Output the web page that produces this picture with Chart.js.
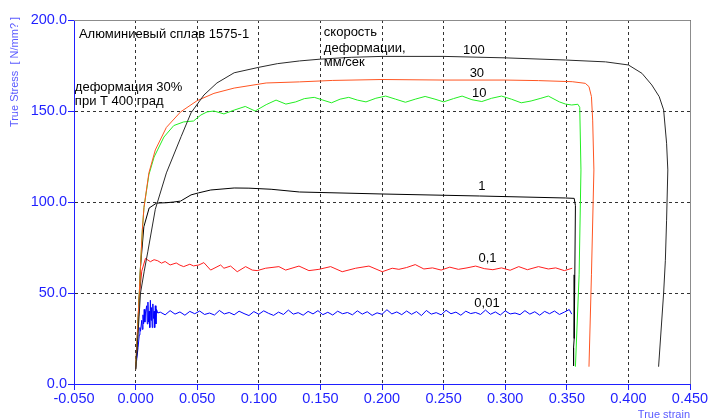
<!DOCTYPE html>
<html>
<head>
<meta charset="utf-8">
<script src="https://cdn.jsdelivr.net/npm/chart.js@4/dist/chart.umd.min.js"></script>
<style>
  html, body { margin: 0; padding: 0; background: #fff; }
  #wrap { width: 711px; height: 418px; }
</style>
</head>
<body>
<div id="wrap"><canvas id="flowChart" width="711" height="418"></canvas></div>
<script>
// Flow curves of alloy 1575-1 at 400 °C, 30 % deformation, one curve per ram speed (mm/s).
// Each curve is a list of [true strain, true stress N/mm²] pairs.

const strainTicks = [-0.05, 0, 0.05, 0.1, 0.15, 0.2, 0.25, 0.3, 0.35, 0.4, 0.45];
const stressTicks = [0, 50, 100, 150, 200];

const speedLabels = ["100", "30", "10", "1", "0,1", "0,01"];

const curve100 = [
    [0.000, 8], [0.002, 28], [0.004, 50], [0.007, 62], [0.010, 73], [0.016, 96], [0.025, 116],
    [0.037, 136], [0.045, 149], [0.0555, 158.8], [0.066, 165.4], [0.080, 171], [0.100, 174],
    [0.115, 176], [0.133, 177.5], [0.150, 178.5], [0.175, 179.5], [0.200, 180], [0.250, 180],
    [0.300, 179.2], [0.349, 178], [0.3815, 177], [0.400, 175.3], [0.411, 170.7], [0.419, 164.3],
    [0.425, 157.9], [0.4286, 150.6], [0.431, 132.3], [0.432, 117.6], [0.431, 90], [0.430, 68],
    [0.4286, 50], [0.4245, 9.5]
];

const curve30 = [
    [0.000, 8], [0.002, 35], [0.004, 65], [0.0055, 85], [0.0068, 97], [0.0108, 116], [0.016, 128.6],
    [0.025, 141], [0.0365, 149.5], [0.050, 155.7], [0.0636, 159.7], [0.080, 162.6], [0.106, 165.4],
    [0.133, 166], [0.160, 166.8], [0.200, 167.3], [0.250, 167], [0.300, 167], [0.327, 166.7],
    [0.3544, 166.1], [0.365, 165.2], [0.368, 163.4], [0.370, 157.9], [0.371, 145], [0.372, 117.6],
    [0.370, 60], [0.368, 9.5]
];

const curve10 = [
    [0.000, 8], [0.002, 35], [0.004, 65], [0.0055, 85], [0.0068, 97], [0.0108, 115], [0.015, 124.7],
    [0.023, 135.7], [0.031, 142], [0.039, 144], [0.047, 144.5], [0.053, 147.8], [0.058, 149.5],
    [0.0636, 150], [0.0717, 148.4], [0.080, 150.5], [0.089, 152.5], [0.097, 150.0], [0.106, 153.5],
    [0.114, 156.0], [0.122, 153.8], [0.130, 155.0], [0.137, 156.8], [0.145, 157.5], [0.152, 156.0],
    [0.159, 154.5], [0.166, 156.5], [0.173, 157.5], [0.180, 156.0], [0.187, 155.0], [0.195, 157.0],
    [0.203, 158.2], [0.211, 156.5], [0.219, 154.8], [0.227, 156.5], [0.235, 158.0], [0.243, 156.5],
    [0.250, 155.0], [0.258, 156.8], [0.265, 158.2], [0.273, 156.2], [0.281, 155.2], [0.289, 157.0],
    [0.297, 158.2], [0.305, 156.5], [0.313, 154.5], [0.321, 155.5], [0.329, 157.0], [0.335, 158.2],
    [0.344, 155.0], [0.349, 153.8], [0.354, 153.3], [0.359, 153.7], [0.3605, 152], [0.3615, 117.6],
    [0.360, 60], [0.357, 9.5]
];

const curve1 = [
    [0.000, 8], [0.0013, 18.7], [0.004, 64.5], [0.0067, 86.4], [0.011, 96.7], [0.017, 99.4],
    [0.025, 99.6], [0.031, 100], [0.0365, 100.5], [0.045, 103.9], [0.051, 105], [0.061, 106.6],
    [0.080, 107.7], [0.092, 107.6], [0.110, 107], [0.133, 105.5], [0.200, 104.4], [0.279, 103.3],
    [0.349, 102.2], [0.356, 102], [0.357, 98], [0.3565, 60], [0.356, 25], [0.3555, 20], [0.3555, 10]
];

const curve01 = [
    [0.000, 8], [0.0027, 46], [0.005, 62], [0.008, 69], [0.012, 67.2], [0.015, 68.3], [0.018, 67.7],
    [0.021, 66.4], [0.024, 67.3], [0.028, 65.4], [0.033, 66.5], [0.036, 65.3], [0.039, 64.5],
    [0.044, 65.8], [0.047, 64.9], [0.0514, 65.4], [0.0554, 66.7], [0.0609, 62.6], [0.069, 65.4],
    [0.0717, 63.6], [0.0771, 64.8], [0.0825, 61.7], [0.0893, 64.5], [0.0947, 62.6], [0.0987, 62.3],
    [0.1055, 63.6], [0.1163, 64.5], [0.1218, 62.6], [0.1326, 64.8], [0.1407, 62.3], [0.1488, 63.0],
    [0.1583, 64.5], [0.1677, 61.7], [0.1786, 63.6], [0.1894, 64.8], [0.2002, 61.7], [0.2083, 63.6],
    [0.2137, 63.0], [0.220, 64.0], [0.227, 65.6], [0.234, 63.2], [0.241, 63.8], [0.248, 62.6],
    [0.255, 64.2], [0.262, 63.0], [0.269, 63.8], [0.276, 64.8], [0.283, 63.4], [0.290, 62.8],
    [0.297, 63.8], [0.304, 62.5], [0.311, 64.5], [0.318, 62.8], [0.327, 64.5], [0.335, 63.2],
    [0.341, 63.8], [0.348, 62.3], [0.3544, 63.6]
];

const curve001 = [
    [0.000, 8], [0.001, 14], [0.002, 20], [0.003, 27], [0.0035, 31], [0.004, 29], [0.005, 35],
    [0.0055, 30], [0.006, 38], [0.0065, 33], [0.007, 41], [0.0075, 34], [0.008, 39], [0.009, 43],
    [0.0095, 33], [0.010, 45], [0.0105, 34], [0.011, 40], [0.0115, 31], [0.012, 46], [0.0125, 35],
    [0.013, 42], [0.0135, 31], [0.014, 44], [0.0145, 36], [0.015, 40], [0.0155, 31], [0.016, 43],
    [0.0165, 33], [0.017, 41], [0.018, 39], [0.020, 39.5], [0.024, 38.0], [0.028, 40.3], [0.032, 38.4],
    [0.036, 39.6], [0.040, 37.8], [0.044, 39.9], [0.048, 38.6], [0.052, 40.1], [0.056, 38.2],
    [0.060, 39.0], [0.064, 37.9], [0.068, 40.4], [0.072, 38.5], [0.076, 39.3], [0.080, 38.0],
    [0.084, 40.0], [0.088, 38.7], [0.092, 37.6], [0.096, 39.8], [0.100, 38.3], [0.104, 40.2],
    [0.108, 38.8], [0.112, 37.7], [0.116, 39.5], [0.120, 38.2], [0.124, 40.6], [0.128, 38.4],
    [0.132, 39.2], [0.136, 37.8], [0.140, 39.9], [0.144, 38.5], [0.148, 40.3], [0.152, 38.1],
    [0.156, 39.4], [0.160, 37.9], [0.164, 40.0], [0.168, 38.6], [0.172, 39.3], [0.176, 38.0],
    [0.180, 40.2], [0.184, 38.4], [0.188, 39.7], [0.192, 37.7], [0.196, 39.1], [0.200, 38.3],
    [0.204, 40.8], [0.208, 38.5], [0.212, 39.6], [0.216, 38.1], [0.220, 40.1], [0.224, 38.3],
    [0.228, 39.8], [0.232, 37.6], [0.236, 40.4], [0.240, 38.4], [0.244, 39.2], [0.248, 38.0],
    [0.252, 40.5], [0.256, 38.6], [0.260, 39.5], [0.264, 37.8], [0.268, 40.0], [0.272, 38.7],
    [0.276, 39.3], [0.280, 38.2], [0.284, 40.6], [0.288, 38.3], [0.292, 39.6], [0.296, 37.9],
    [0.300, 40.2], [0.304, 38.5], [0.308, 39.0], [0.312, 38.1], [0.316, 40.3], [0.320, 38.4],
    [0.324, 39.7], [0.328, 37.8], [0.332, 39.9], [0.336, 38.6], [0.340, 40.1], [0.344, 38.2],
    [0.348, 39.5], [0.352, 40.9], [0.354, 38.4]
];

const curveColors = ["#2a2a2a", "#ff5522", "#22ee22", "#000000", "#ff1e1e", "#0000ff"];
const curves = [curve100, curve30, curve10, curve1, curve01, curve001];

// curve name tags and notes, placed in data units (strain, stress)
const speedTagPos = [[0.2746, 183.5], [0.277, 170.9], [0.279, 159.4], [0.281, 108.3], [0.2856, 69.2], [0.2852, 44]];
const notes = [
    { text: "Алюминиевый сплав 1575-1", at: [-0.046, 192.3] },
    { text: "деформация 30%", at: [-0.0493, 163.2] },
    { text: "при Т 400 град", at: [-0.0493, 155.0] },
    { text: "скорость", at: [0.1528, 193.4] },
    { text: "деформации,", at: [0.1528, 184.6] },
    { text: "мм/сек", at: [0.1528, 176.9] }
];

const FONT = "'Liberation Sans', Arial, Helvetica, sans-serif";
const AXIS_BLUE = "#1f1fff";
const TITLE_BLUE = "#5a5aff";

const annotate = {
    id: "annotate",
    beforeDatasetsDraw(chart) {
        // grey frame on the top and right of the plot
        const { ctx, chartArea: a } = chart;
        ctx.save();
        ctx.strokeStyle = "#8c8c8c";
        ctx.lineWidth = 1;
        ctx.beginPath();
        ctx.moveTo(a.left, a.top + 0.5);
        ctx.lineTo(a.right + 0.5, a.top + 0.5);
        ctx.lineTo(a.right + 0.5, a.bottom);
        ctx.stroke();
        ctx.restore();
    },
    afterDraw(chart) {
        const { ctx, chartArea: a } = chart;
        const xs = chart.scales.x, ys = chart.scales.y;
        ctx.save();
        ctx.fillStyle = "#000";
        ctx.font = "13px " + FONT;
        ctx.textBaseline = "middle";
        ctx.textAlign = "left";
        notes.forEach(n => {
            ctx.fillText(n.text, xs.getPixelForValue(n.at[0]), ys.getPixelForValue(n.at[1]));
        });
        ctx.textAlign = "center";
        speedLabels.forEach((t, i) => {
            const p = speedTagPos[i];
            ctx.fillText(t, xs.getPixelForValue(p[0]), ys.getPixelForValue(p[1]));
        });

        // axis titles
        ctx.fillStyle = TITLE_BLUE;
        ctx.font = "11px " + FONT;
        ctx.save();
        ctx.translate(15, a.top + 52);
        ctx.rotate(-Math.PI / 2);
        ctx.textAlign = "center";
        ctx.textBaseline = "middle";
        ctx.fillText("True Stress  [ N/mm? ]", 0, 0);
        ctx.restore();
        ctx.textAlign = "right";
        ctx.textBaseline = "top";
        ctx.fillText("True strain", a.right, a.bottom + 25);
        ctx.restore();
    }
};

new Chart(document.getElementById("flowChart"), {
    type: "scatter",
    data: {
        datasets: curves.map((c, i) => ({
            label: speedLabels[i],
            data: c.map(p => ({ x: p[0], y: p[1] })),
            showLine: true,
            borderColor: curveColors[i],
            backgroundColor: curveColors[i],
            borderWidth: 1,
            pointRadius: 0,
            tension: 0
        }))
    },
    options: {
        responsive: false,
        animation: false,
        devicePixelRatio: 1,
        layout: { padding: { top: 20, right: 21, left: 0, bottom: 0 } },
        plugins: { legend: { display: false }, tooltip: { enabled: false } },
        scales: {
            x: {
                type: "linear", min: -0.05, max: 0.45,
                afterBuildTicks: s => { s.ticks = strainTicks.map(v => ({ value: v })); },
                afterFit: s => { s.height = 34; },
                ticks: {
                    callback: v => v.toFixed(3), color: AXIS_BLUE, padding: 0,
                    autoSkip: false, maxRotation: 0, font: { family: FONT, size: 14.5 }
                },
                grid: { color: "rgba(0,0,0,0.8)", lineWidth: 1, tickColor: AXIS_BLUE, tickLength: 6, tickBorderDash: [] },
                border: { color: AXIS_BLUE, width: 1, dash: [3, 3] }
            },
            y: {
                type: "linear", min: 0, max: 200,
                afterBuildTicks: s => { s.ticks = stressTicks.map(v => ({ value: v })); },
                afterFit: s => { s.width = 74; },
                ticks: {
                    callback: v => v.toFixed(1), color: AXIS_BLUE, padding: 1,
                    font: { family: FONT, size: 14.5 }
                },
                grid: { color: "rgba(0,0,0,0.8)", lineWidth: 1, tickColor: AXIS_BLUE, tickLength: 6, tickBorderDash: [] },
                border: { color: AXIS_BLUE, width: 1, dash: [3, 3] }
            }
        }
    },
    plugins: [annotate]
});
</script>
</body>
</html>
